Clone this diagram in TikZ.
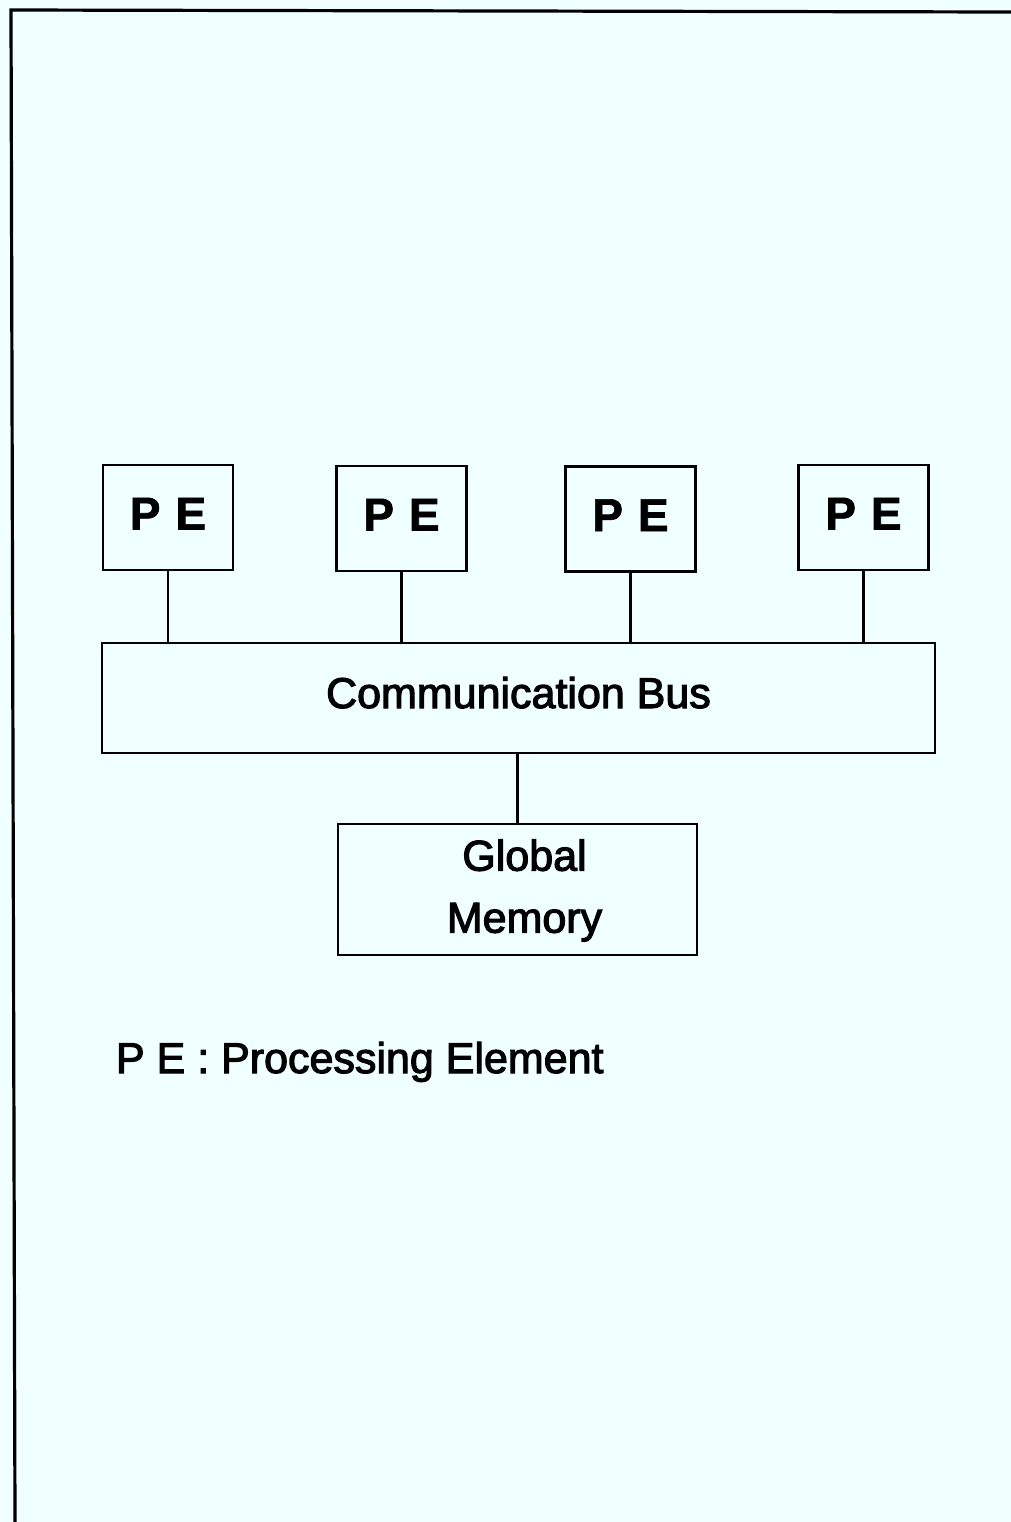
\documentclass[tikz,border=0pt]{standalone}
\usepackage{fontspec}
\setmainfont{Liberation Sans}[FakeBold=1.5]
\newfontfamily\labelfont{Liberation Sans}[FakeBold=2.6]
\definecolor{paper}{RGB}{240,255,255}
\begin{document}
\begin{tikzpicture}[x=0.5pt,y=-0.5pt,
  every node/.style={inner sep=0pt, outer sep=0pt},
  boxline/.style={draw=black, line width=1.3pt},
  pebox/.style={boxline, minimum width=65pt, minimum height=52.5pt,
    font=\bfseries\fontsize{23}{27}\selectfont, text height=16.5pt, text depth=4.5pt},
  busbox/.style={boxline, minimum width=416.5pt, minimum height=55pt,
    font=\labelfont\fontsize{21.5}{26}\selectfont, text height=15.4pt, text depth=5.4pt},
  membox/.style={boxline, minimum width=179.5pt, minimum height=65.5pt},
  wire/.style={draw=black, line width=1.2pt},
  legend/.style={font=\labelfont\fontsize{21.5}{26}\selectfont, anchor=base west}]
  % page
  \fill[paper] (0,0) rectangle (1011,1522);
  \useasboundingbox (0,0) rectangle (1011,1522);
  \draw[line width=1.6pt] (15,1522) -- (11,10) -- (1011,12);

  % processing elements
  \node[pebox] (pe1) at (168,517.5) {P\hspace{7.5pt}E};
  \node[pebox] (pe2) at (401.5,518.5) {P\hspace{7.5pt}E};
  \node[pebox] (pe3) at (630.5,519) {P\hspace{7.5pt}E};
  \node[pebox] (pe4) at (863.5,517.5) {P\hspace{7.5pt}E};

  % bus and memory
  \node[busbox] (bus) at (518.5,698) {Communication Bus};
  \node[membox] (mem) at (517.5,889.5) {};
  \node[font=\labelfont\fontsize{21.5}{31}\selectfont, align=center, xshift=3.5pt, yshift=-0.5pt]
    (memtext) at (mem.center) {Global\\Memory};

  % connections
  \foreach \p in {pe1,pe2,pe3,pe4}
    \draw[wire] (\p.south) -- (\p.south |- bus.north);
  \draw[wire] (mem.north |- bus.south) -- (mem.north);

  % legend
  \node[legend] (key) at (116,1073) {P E : Processing Element};
\end{tikzpicture}
\end{document}
